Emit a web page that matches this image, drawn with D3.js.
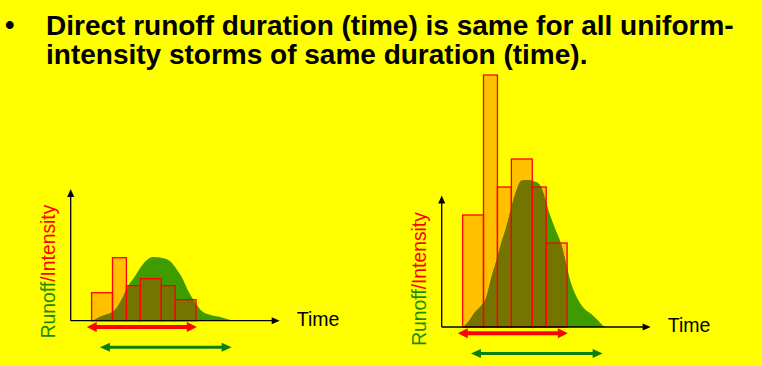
<!DOCTYPE html>
<html lang="en">
<head>
<meta charset="UTF-8">
<title>Direct runoff duration</title>
<script src="https://cdn.jsdelivr.net/npm/d3@7"></script>
<style>
  html, body { margin: 0; padding: 0; background: #ffff00; }
  svg { display: block; }
</style>
</head>
<body>
<div id="container"></div>
<script>
// ---- data ----
const titleLines = ["Direct runoff duration (time) is same for all uniform-",
                    "intensity storms of same duration (time)."]
// rain block edges (time units) and the intensity of each block
const blockEdges = [1.5, 3, 4, 5, 6.5, 7.5, 9]
const intensitySmall = [4, 9, 5, 6, 5, 3]
const intensityLarge = [16, 36, 20, 24, 20, 12]
// direct runoff hydrographs
const runoffSmallT = [1.6, 1.95, 2.45, 3.15, 3.65, 4.1, 4.6, 5.05, 5.55, 5.9, 6.75, 7.2, 7.55, 7.95, 8.4, 8.9, 9.35, 10.05, 10.8, 11.5, 11.9]
const runoffSmallQ = [0, 0.4, 0.8, 1.5, 3.0, 4.9, 6.3, 7.7, 8.8, 9.1, 8.9, 8.4, 7.5, 6.3, 4.4, 2.7, 1.5, 0.8, 0.5, 0.1, 0]
const runoffLargeT = [1.54, 1.9, 2.38, 2.86, 3.21, 3.57, 3.93, 4.29, 4.64, 5.0, 5.36, 5.71, 6.07, 6.79, 7.14, 7.38, 7.74, 8.09, 8.57, 8.93, 9.29, 9.76, 10.24, 10.71, 11.19, 11.66, 11.88]
const runoffLargeQ = [0, 0.7, 2.1, 3.1, 4.3, 7.1, 9.5, 12.1, 14.3, 17.1, 19.5, 20.9, 21.0, 20.7, 20.0, 18.6, 16.2, 14.3, 11.9, 9.0, 6.2, 4.0, 2.6, 1.9, 1.0, 0.1, 0]
// durations shown by the double arrows
const rainDuration = [1.15, 9.05]
const runoffDuration = [2.1, 11.55]
const yLabelParts = ["Runoff", "/Intensity"]
const xLabel = "Time"

let width = 762
let height = 366

let svg = d3.select('#container')
    .append('svg')
    .attr('width', width)
    .attr('height', height)
    .style('background-color', '#ffff00')

// title
svg.append('text')
    .attr('x', 5).attr('y', 34)
    .style('font-family', 'Liberation Sans, Arial, sans-serif')
    .style('font-weight', 'bold')
    .style('font-size', '27px')
    .text('\u2022')
titleLines.forEach(function (line, i) {
    svg.append('text')
        .attr('x', 46)
        .attr('y', 34.5 + i * 29.5)
        .style('font-family', 'Liberation Sans, Arial, sans-serif')
        .style('font-weight', 'bold')
        .style('font-size', '28px')
        .attr('fill', '#000')
        .text(line)
})

let clipId = 0

function drawPanel(x0, base, intensity, runT, runQ, labelY) {
    let x = d3.scaleLinear().domain([0, 15]).range([x0, x0 + 209])
    let y = d3.scaleLinear().domain([0, 36]).range([base, base - 252])
    let yTop = 18.8

    let g = svg.append('g')

    let blocks = intensity.map(function (v, i) {
        return {t0: blockEdges[i], t1: blockEdges[i + 1], v: v}
    })
    let runoff = runT.map(function (t, i) { return {t: t, q: runQ[i]} })

    // rain blocks (fill)
    g.selectAll('rect.fill')
        .data(blocks)
        .enter()
        .append('rect')
        .attr('class', 'fill')
        .attr('x', d => x(d.t0))
        .attr('y', d => y(d.v))
        .attr('width', d => x(d.t1) - x(d.t0))
        .attr('height', d => y(0) - y(d.v))
        .attr('fill', '#ffc000')

    let area = d3.area()
        .x(d => x(d.t))
        .y0(y(0))
        .y1(d => y(d.q))
        .curve(d3.curveMonotoneX)

    g.append('path')
        .datum(runoff)
        .attr('d', area)
        .attr('fill', '#3f9c00')

    // runoff under the blocks looks olive
    let id = 'blk' + (clipId++)
    let clip = g.append('clipPath').attr('id', id)
    clip.selectAll('rect')
        .data(blocks)
        .enter()
        .append('rect')
        .attr('x', d => x(d.t0))
        .attr('y', d => y(d.v))
        .attr('width', d => x(d.t1) - x(d.t0))
        .attr('height', d => y(0) - y(d.v))
    g.append('path')
        .datum(runoff)
        .attr('d', area)
        .attr('fill', '#747400')
        .attr('clip-path', 'url(#' + id + ')')

    // block outlines
    g.selectAll('rect.edge')
        .data(blocks)
        .enter()
        .append('rect')
        .attr('class', 'edge')
        .attr('x', d => x(d.t0))
        .attr('y', d => y(d.v))
        .attr('width', d => x(d.t1) - x(d.t0))
        .attr('height', d => y(0) - y(d.v))
        .attr('fill', 'none')
        .attr('stroke', '#ff0000')
        .attr('stroke-width', 1.3)

    // axes with arrow heads
    g.append('line')
        .attr('x1', x(0)).attr('y1', y(0))
        .attr('x2', x(0)).attr('y2', y(yTop) + 4)
        .attr('stroke', '#000').attr('stroke-width', 1.3)
    g.append('path')
        .attr('d', 'M' + x(0) + ',' + y(yTop) + 'l-3.5,8h7z')
        .attr('fill', '#000')
    g.append('line')
        .attr('x1', x(0)).attr('y1', y(0))
        .attr('x2', x(15) - 4).attr('y2', y(0))
        .attr('stroke', '#000').attr('stroke-width', 1.3)
    g.append('path')
        .attr('d', 'M' + x(15) + ',' + y(0) + 'l-8,-3.5v7z')
        .attr('fill', '#000')

    g.append('text')
        .attr('x', x(15) + 17)
        .attr('y', y(0) + 5)
        .style('font-family', 'Liberation Sans, Arial, sans-serif')
        .style('font-size', '19.5px')
        .text(xLabel)

    // y label, two colours
    let lab = g.append('text')
        .attr('transform', 'translate(' + (x0 - 16) + ',' + labelY + ') rotate(-90)')
        .attr('text-anchor', 'middle')
        .style('font-family', 'Liberation Sans, Arial, sans-serif')
        .style('font-size', '19.3px')
    lab.append('tspan').attr('fill', '#1e8c00').text(yLabelParts[0])
    lab.append('tspan').attr('fill', '#ff0000').text(yLabelParts[1])

    // duration arrows
    function dblArrow(t0, t1, yy, col, lw, hl, hw) {
        g.append('line')
            .attr('x1', x(t0) + hl - 1).attr('y1', yy)
            .attr('x2', x(t1) - hl + 1).attr('y2', yy)
            .attr('stroke', col).attr('stroke-width', lw)
        g.append('path')
            .attr('d', 'M' + x(t0) + ',' + yy + 'l' + hl + ',' + (-hw / 2) + 'v' + hw + 'z')
            .attr('fill', col)
        g.append('path')
            .attr('d', 'M' + x(t1) + ',' + yy + 'l' + (-hl) + ',' + (-hw / 2) + 'v' + hw + 'z')
            .attr('fill', col)
    }
    dblArrow(rainDuration[0], rainDuration[1], y(0) + 6.3, '#ff0000', 4, 10, 10)
    dblArrow(runoffDuration[0], runoffDuration[1], y(0) + 26.5, '#0a800a', 3, 10, 9)
}

drawPanel(70.7, 320.7, intensitySmall, runoffSmallT, runoffSmallQ, 271.5)
drawPanel(441.7, 327, intensityLarge, runoffLargeT, runoffLargeQ, 279)
</script>
</body>
</html>
